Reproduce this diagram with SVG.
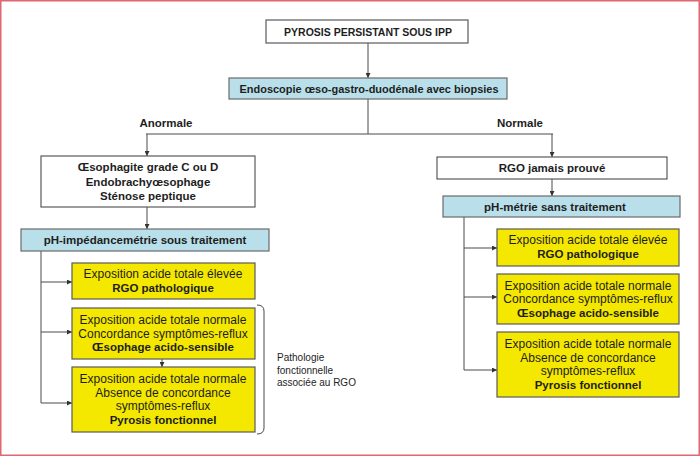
<svg xmlns="http://www.w3.org/2000/svg" width="700" height="456" viewBox="0 0 700 456">
<style>
.bd{fill:#fff;stroke:#e06672;stroke-width:1.5}
.w{fill:#fff;stroke:#5a5a5a;stroke-width:1.2}
.b{fill:#b9e0ea;stroke:#6a6a6a;stroke-width:1.2}
.y{fill:#f4e800;stroke:#5a5a5a;stroke-width:1.2}
text{font-family:"Liberation Sans",Arial,sans-serif;fill:#1e1e1e;text-anchor:middle}
.t{font-size:11.5px;font-weight:bold}
.r{font-size:12px}
.s{font-size:10px;text-anchor:start}
.cap{font-size:10.5px;font-weight:bold}
.ln{fill:none;stroke:#4a4a4a;stroke-width:1}
</style>
<defs>
<marker id="ah" viewBox="0 0 6 6" refX="6" refY="3" markerWidth="5" markerHeight="5" orient="auto" markerUnits="userSpaceOnUse">
<path d="M0,0L6,3L0,6z" fill="#333"/>
</marker>
</defs>
<rect class="bd" x="0.75" y="0.75" width="698.5" height="454.5"/>
<g id="connectors">
<path class="ln" d="M368,43V78" marker-end="url(#ah)"/>
<path class="ln" d="M368,99V134M146,134H553"/>
<path class="ln" d="M147,134V156" marker-end="url(#ah)"/>
<path class="ln" d="M552,134V157" marker-end="url(#ah)"/>
<path class="ln" d="M147,207V229" marker-end="url(#ah)"/>
<path class="ln" d="M552,179V196" marker-end="url(#ah)"/>
<path class="ln" d="M41,251V403"/>
<path class="ln" d="M41,282H72" marker-end="url(#ah)"/>
<path class="ln" d="M41,332H72" marker-end="url(#ah)"/>
<path class="ln" d="M41,403H72" marker-end="url(#ah)"/>
<path class="ln" d="M162,359V367" marker-end="url(#ah)"/>
<path class="ln" d="M464,217V370"/>
<path class="ln" d="M464,248H497" marker-end="url(#ah)"/>
<path class="ln" d="M464,297H497" marker-end="url(#ah)"/>
<path class="ln" d="M464,370H497" marker-end="url(#ah)"/>
<path class="ln" d="M257,305Q264,305 264,311V428Q264,434 257,434"/>
</g>
<g id="n-pyrosis">
<rect class="w" x="266" y="20" width="202" height="23"/>
<text class="cap" x="368" y="35.5">PYROSIS PERSISTANT SOUS IPP</text>
</g>
<g id="n-endoscopie">
<rect class="b" x="229" y="78" width="278" height="21"/>
<text class="t" x="369" y="93" textLength="259" lengthAdjust="spacingAndGlyphs">Endoscopie œso-gastro-duodénale avec biopsies</text>
</g>
<g id="l-anormale"><text class="t" x="166" y="127">Anormale</text></g>
<g id="l-normale"><text class="t" x="520" y="127">Normale</text></g>
<g id="n-oesophagite">
<rect class="w" x="41" y="156" width="214" height="51"/>
<text class="t" x="148" y="171">Œsophagite grade C ou D</text>
<text class="t" x="148" y="185.5">Endobrachyœsophage</text>
<text class="t" x="148" y="199.5">Sténose peptique</text>
</g>
<g id="n-phimp">
<rect class="b" x="21" y="229" width="248" height="22"/>
<text class="t" x="145" y="244">pH-impédancemétrie sous traitement</text>
</g>
<g id="n-l1">
<rect class="y" x="72" y="263" width="183" height="36"/>
<text class="r" x="163" y="278">Exposition acide totale élevée</text>
<text class="t" x="163" y="292">RGO pathologique</text>
</g>
<g id="n-l2">
<rect class="y" x="72" y="308" width="183" height="51"/>
<text class="r" x="163" y="324">Exposition acide totale normale</text>
<text class="r" x="163" y="337.5">Concordance symptômes-reflux</text>
<text class="t" x="163" y="351">Œsophage acido-sensible</text>
</g>
<g id="n-l3">
<rect class="y" x="72" y="367" width="183" height="65"/>
<text class="r" x="163" y="383">Exposition acide totale normale</text>
<text class="r" x="163" y="396.5">Absence de concordance</text>
<text class="r" x="163" y="410">symptômes-reflux</text>
<text class="t" x="163" y="423.5">Pyrosis fonctionnel</text>
</g>
<g id="l-pathologie">
<text class="s" x="277" y="361">Pathologie</text>
<text class="s" x="277" y="373.5">fonctionnelle</text>
<text class="s" x="277" y="386">associée au RGO</text>
</g>
<g id="n-rgo">
<rect class="w" x="437" y="157" width="230" height="22"/>
<text class="t" x="552" y="172">RGO jamais prouvé</text>
</g>
<g id="n-phmetrie">
<rect class="b" x="443" y="196" width="237" height="21"/>
<text class="t" x="555" y="210.5">pH-métrie sans traitement</text>
</g>
<g id="n-r1">
<rect class="y" x="497" y="229" width="182" height="37"/>
<text class="r" x="588" y="244">Exposition acide totale élevée</text>
<text class="t" x="588" y="258">RGO pathologique</text>
</g>
<g id="n-r2">
<rect class="y" x="497" y="274" width="182" height="50"/>
<text class="r" x="588" y="290">Exposition acide totale normale</text>
<text class="r" x="588" y="303">Concordance symptômes-reflux</text>
<text class="t" x="588" y="316.5">Œsophage acido-sensible</text>
</g>
<g id="n-r3">
<rect class="y" x="497" y="332" width="182" height="65"/>
<text class="r" x="588" y="348">Exposition acide totale normale</text>
<text class="r" x="588" y="361.5">Absence de concordance</text>
<text class="r" x="588" y="375">symptômes-reflux</text>
<text class="t" x="588" y="388.5">Pyrosis fonctionnel</text>
</g>
</svg>
